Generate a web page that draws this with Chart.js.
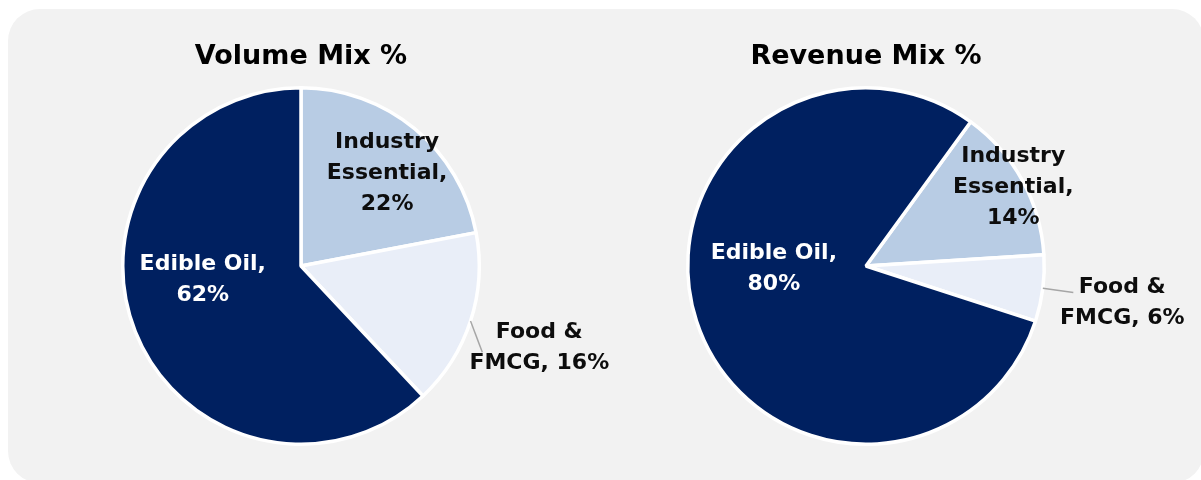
<!DOCTYPE html>
<html>
<head>
<meta charset="utf-8">
<script src="https://cdn.jsdelivr.net/npm/chart.js@4.4.1/dist/chart.umd.min.js"></script>
<style>
  html, body { margin:0; padding:0; background:#fff; width:1201px; height:480px; overflow:hidden; }
  .panel { position:absolute; left:8px; top:9px; width:1196px; height:474px; background:#f2f2f2; border-radius:32px; }
  .box { position:absolute; top:0; height:480px; }
  #box-vol { left:0; width:700px; }
  #box-rev { left:600px; width:601px; }
</style>
</head>
<body>
<div class="panel"></div>
<div class="box" id="box-vol"><canvas id="vol-canvas"></canvas></div>
<div class="box" id="box-rev"><canvas id="rev-canvas"></canvas></div>
<script>
const categories  = ['Industry Essential', 'Food & FMCG', 'Edible Oil'];
const volumeMix   = [22, 16, 62];
const revenueMix  = [14, 6, 80];
// how each slice label is broken into lines, {v} is replaced by the share
const labelWrap   = [['Industry', 'Essential,', '{v}'], ['Food &', 'FMCG, {v}'], ['Edible Oil,', '{v}']];

const COLORS     = ['#B8CCE4', '#E9EEF8', '#002060'];
const TEXT_COLS  = ['#0d0d0d', '#0d0d0d', '#ffffff'];
const FONT       = '"DejaVu Sans", sans-serif';

// label placement per slice, in units of the outer radius from the pie centre
// lead = end of the leader line (px, relative to label centre) or null
const volPlace = [
  { fx: 0.483, fy: -0.534, lead: null },
  { fx: 1.337, fy: 0.444,  lead: [-57, 7] },
  { fx: -0.551, fy: 0.062, lead: null }
];
const revPlace = [
  { fx: 0.826, fy: -0.455, lead: null },
  { fx: 1.438, fy: 0.194,  lead: [-49, -8] },
  { fx: -0.517, fy: 0.003, lead: null }
];

const sliceLabels = {
  id: 'sliceLabels',
  afterDatasetsDraw(chart, args, opts) {
    const { ctx } = chart;
    const meta = chart.getDatasetMeta(0);
    const values = chart.data.datasets[0].data;
    ctx.save();
    ctx.font = 'bold 22px ' + FONT;
    ctx.textAlign = 'center';
    ctx.textBaseline = 'alphabetic';
    meta.data.forEach((arc, i) => {
      const { x, y, startAngle, endAngle, outerRadius } = arc.getProps(['x','y','startAngle','endAngle','outerRadius'], true);
      const p = opts.place[i];
      const cx = x + p.fx * outerRadius;
      const cy = y + p.fy * outerRadius;
      if (p.lead) {
        const mid = (startAngle + endAngle) / 2;
        ctx.beginPath();
        ctx.moveTo(x + Math.cos(mid) * outerRadius, y + Math.sin(mid) * outerRadius);
        ctx.lineTo(cx + p.lead[0], cy + p.lead[1]);
        ctx.strokeStyle = '#a6a6a6';
        ctx.lineWidth = 1.5;
        ctx.stroke();
      }
      const lines = labelWrap[i].map(s => s.replace('{v}', values[i] + '%'));
      const lh = 31;
      ctx.fillStyle = TEXT_COLS[i];
      lines.forEach((s, k) => {
        ctx.fillText(s, cx, cy + (k - (lines.length - 1) / 2) * lh + 8);
      });
    });
    ctx.restore();
  }
};

function makePie(canvasId, title, values, rotation, pad, place) {
  return new Chart(document.getElementById(canvasId), {
    type: 'pie',
    data: {
      labels: categories,
      datasets: [{
        data: values,
        backgroundColor: COLORS,
        borderColor: '#ffffff',
        borderWidth: 3.5,
        hoverBorderWidth: 3.5,
        hoverOffset: 0
      }]
    },
    options: {
      responsive: true, maintainAspectRatio: false,
      animation: false,
      rotation,
      layout: { padding: pad },
      events: [],
      plugins: {
        legend: { display: false },
        tooltip: { enabled: false },
        title: {
          display: true, text: title, color: '#000',
          font: { family: FONT, size: 27, weight: 'bold' },
          padding: { top: 0, bottom: 12.6 }
        },
        sliceLabels: { place }
      }
    },
    plugins: [sliceLabels]
  });
}

makePie('vol-canvas', 'Volume Mix %', volumeMix, 0,
  { left: 121, right: 219, top: 41, bottom: 34 }, volPlace);
makePie('rev-canvas', 'Revenue Mix %', revenueMix, 36,
  { left: 86, right: 155, top: 41, bottom: 34 }, revPlace);
</script>
</body>
</html>
